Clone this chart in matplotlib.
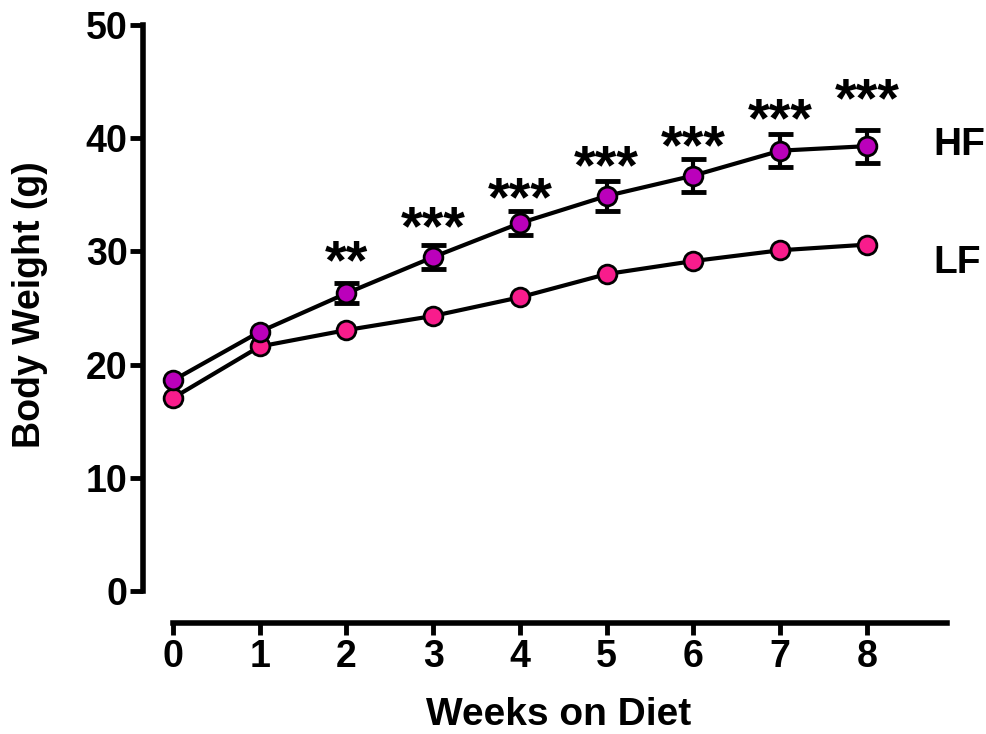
import matplotlib
matplotlib.use("Agg")
import matplotlib.pyplot as plt
import numpy as np

plt.rcParams['font.family'] = ['Liberation Sans', 'DejaVu Sans']
plt.rcParams['font.weight'] = 'bold'

# body weight (g) per week
weeks = [0, 1, 2, 3, 4, 5, 6, 7, 8]
hf_mean = [18.6, 22.9, 26.3, 29.5, 32.5, 34.9, 36.7, 38.9, 39.3]
hf_sem = [0.5, 0.6, 0.9, 1.07, 1.06, 1.3, 1.43, 1.46, 1.47]
lf_mean = [17.05, 21.6, 23.05, 24.3, 25.95, 28.0, 29.15, 30.1, 30.6]
lf_sem = [0.4, 0.4, 0.4, 0.4, 0.4, 0.4, 0.4, 0.4, 0.4]

# significance marks above HF
star_weeks = [2, 3, 4, 5, 6, 7, 8]
star_text = ["**", "***", "***", "***", "***", "***", "***"]
star_y = [27.6, 30.6, 33.2, 36.0, 37.8, 40.2, 41.9]

hf_color = '#BB00BB'
lf_color = '#F81C8C'

fig = plt.figure(figsize=(9.86, 7.34), dpi=100)
ax = fig.add_axes([0.145, 0.1512, 0.8154, 0.8147])


def draw_group(mean, sem, color, z):
    # like Prism: error bars shorter than the symbol are hidden behind it
    sem = np.array(sem, dtype=float)
    sem_shown = np.where(sem > 0.85, sem, np.nan)
    ax.errorbar(weeks, mean, yerr=sem_shown, fmt='none', ecolor='black',
                elinewidth=3, capsize=9, capthick=3.5, zorder=z)
    ax.plot(weeks, mean, color='black', lw=3, marker='o', ms=13.5,
            mfc=color, mec='black', mew=2, zorder=z + 0.5)


draw_group(lf_mean, lf_sem, lf_color, 3)
draw_group(hf_mean, hf_sem, hf_color, 4)

for x, t, y in zip(star_weeks, star_text, star_y):
    ax.text(x, y, t, ha='center', va='baseline', fontsize=40, fontweight='bold')

ax.text(8.76, 38.5, "HF", ha='left', va='baseline', fontsize=28, fontweight='bold')
ax.text(8.76, 28.1, "LF", ha='left', va='baseline', fontsize=28, fontweight='bold')

ax.set_xlim(-0.346, 8.922)
ax.set_ylim(-2.83, 50)
ax.spines['top'].set_visible(False)
ax.spines['right'].set_visible(False)
ax.spines['left'].set_bounds(0, 50)
ax.spines['bottom'].set_bounds(0, 8.922)
ax.spines['left'].set_linewidth(4)
ax.spines['bottom'].set_linewidth(4)

ax.set_xticks(weeks)
ax.set_yticks([0, 10, 20, 30, 40, 50])
ax.tick_params(axis='y', length=9.5, width=3.5, pad=1.5, labelsize=27)
ax.tick_params(axis='x', length=8.5, width=3.5, pad=3, labelsize=27)
for lab in ax.get_xticklabels() + ax.get_yticklabels():
    lab.set_fontweight('bold')

fig.text(559 / 986, 1 - 733 / 734, "Weeks on Diet", ha='center', va='bottom',
         fontsize=28, fontweight='bold')
fig.text(30 / 986, 1 - 305 / 734, "Body Weight (g)", ha='center', va='center',
         rotation=90, fontsize=27, fontweight='bold')

fig.savefig("out.png", dpi=100)
